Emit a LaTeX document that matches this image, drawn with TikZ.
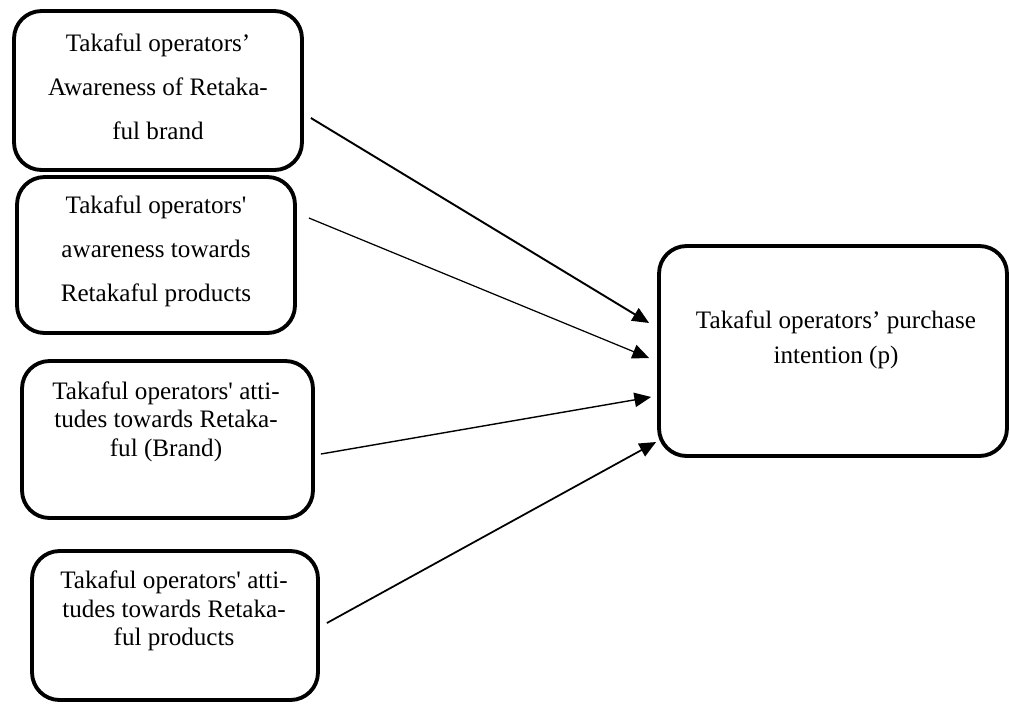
\documentclass[tikz,border=0pt]{standalone}
\usepackage{fontspec}
\setmainfont{Liberation Serif}
\usepackage{tikz}
\usetikzlibrary{arrows.meta,positioning}

\begin{document}
\begin{tikzpicture}[x=0.02cm, y=-0.02cm,
    box/.style={draw, line width=2.2pt, rounded corners=0.55cm},
    txt/.style={align=center, inner sep=0pt},
    arr/.style={-{Triangle[length=9.5pt, width=8.2pt]}}]
    \useasboundingbox (0,0) rectangle (1010,704);

    % Awareness
    \node (aware) [box, minimum width=5.76cm, minimum height=3.18cm] at (158,90.5) {};
    \node (awareT) [txt, font=\fontsize{14.3}{25}\selectfont] at (158,86.5)
        {Takaful operators’\\Awareness of Retaka-\\ful brand};
    \node (prodaw) [box, minimum width=5.56cm, minimum height=3.12cm] at (156,255) {};
    \node (prodawT) [txt, font=\fontsize{14.3}{25}\selectfont] at (156,251)
        {Takaful operators\textquotesingle\\awareness towards\\Retakaful products};

    % Attitudes
    \node (brand) [box, minimum width=5.82cm, minimum height=3.14cm] at (167.5,439.5) {};
    \node (brandT) [txt, font=\fontsize{14.3}{16.3}\selectfont] at (166,421.5)
        {Takaful operators\textquotesingle{} atti-\\tudes towards Retaka-\\ful (Brand)};
    \node (prod) [box, minimum width=5.72cm, minimum height=2.98cm] at (175,625.5) {};
    \node (prodT) [txt, font=\fontsize{14.3}{16.3}\selectfont] at (174,611)
        {Takaful operators\textquotesingle{} atti-\\tudes towards Retaka-\\ful products};

    % Purchase intention
    \node (intent) [box, minimum width=6.96cm, minimum height=4.2cm] at (833,351) {};
    \node (intentT) [txt, font=\fontsize{14.3}{19.8}\selectfont] at (836,339.5)
        {Takaful operators’ purchase\\intention (p)};

    \draw[arr, line width=1.1pt] ([shift={(7,27.5)}]aware.east) -- ([shift={(-8,-28)}]intent.west);
    \draw[arr, line width=0.7pt] ([shift={(12,-37)}]prodaw.east) -- ([shift={(-8,7)}]intent.west);
    \draw[arr, line width=0.8pt] ([shift={(6,14.5)}]brand.east) -- ([shift={(-6,46)}]intent.west);
    \draw[arr, line width=1pt] ([shift={(7,-2.5)}]prod.east) -- ([shift={(-1,91)}]intent.west);
\end{tikzpicture}
\end{document}
